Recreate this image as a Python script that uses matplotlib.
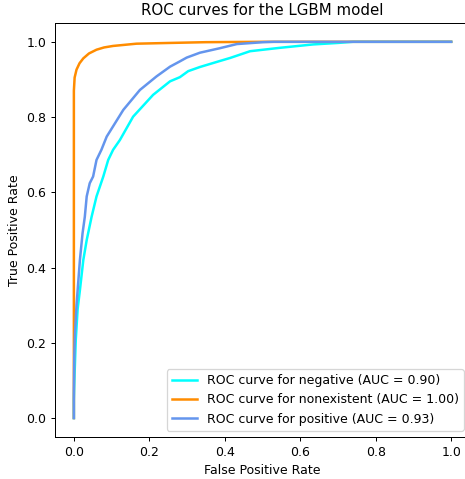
import numpy as np
import matplotlib.pyplot as plt

# ROC points (fpr, tpr)
fpr_neg = [0.0, 0.0, 0.002, 0.005, 0.01, 0.016, 0.025, 0.034, 0.047, 0.06, 0.078, 0.091,
           0.104, 0.122, 0.157, 0.21, 0.255, 0.281, 0.303, 0.334, 0.387, 0.414, 0.467,
           0.546, 0.634, 0.7, 0.74, 1.0]
tpr_neg = [0.0, 0.05, 0.12, 0.207, 0.29, 0.34, 0.42, 0.473, 0.535, 0.589, 0.642, 0.686,
           0.713, 0.739, 0.801, 0.859, 0.895, 0.906, 0.922, 0.933, 0.949, 0.957, 0.975,
           0.984, 0.993, 0.997, 1.0, 1.0]

fpr_non = [0.0, 0.0, 0.0, 0.0, 0.002, 0.007, 0.015, 0.025, 0.04, 0.06, 0.08, 0.104, 0.166,
           0.255, 0.35, 0.5, 1.0]
tpr_non = [0.0, 0.3, 0.6, 0.87, 0.905, 0.926, 0.943, 0.956, 0.969, 0.979, 0.985, 0.989,
           0.995, 0.997, 0.999, 1.0, 1.0]

fpr_pos = [0.0, 0.0, 0.001, 0.003, 0.007, 0.01, 0.016, 0.023, 0.029, 0.034, 0.042, 0.051,
           0.06, 0.073, 0.087, 0.131, 0.175, 0.219, 0.255, 0.281, 0.299, 0.334, 0.387,
           0.432, 0.502, 0.53, 1.0]
tpr_pos = [0.0, 0.08, 0.16, 0.226, 0.3, 0.34, 0.42, 0.491, 0.535, 0.589, 0.624, 0.642,
           0.686, 0.713, 0.748, 0.819, 0.872, 0.908, 0.934, 0.948, 0.958, 0.971, 0.983,
           0.994, 0.999, 1.0, 1.0]

labels = ['negative', 'nonexistent', 'positive']
aucs = [0.90, 1.00, 0.93]
colors = ['aqua', 'darkorange', 'cornflowerblue']

fig = plt.figure(figsize=(465 / 90, 479 / 90), dpi=90)
# right spine falls just outside the picture, as in the reference
ax = fig.add_axes([0.1183, 0.088, 0.8925, 0.864])

curves = [(fpr_neg, tpr_neg), (fpr_non, tpr_non), (fpr_pos, tpr_pos)]
for (f, t), lab, auc, c in zip(curves, labels, aucs, colors):
    ax.plot(f, t, color=c, lw=2, label='ROC curve for %s (AUC = %0.2f)' % (lab, auc))

ax.set_xlabel('False Positive Rate')
ax.set_ylabel('True Positive Rate')
ax.set_title('ROC curves for the LGBM model')
ax.legend(loc='lower right')

fig.savefig('out.png', dpi=90)
